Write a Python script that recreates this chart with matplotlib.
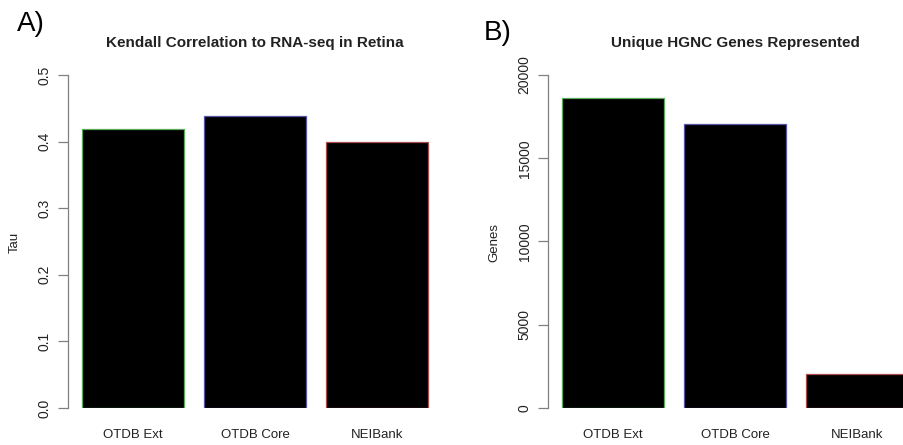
import matplotlib
matplotlib.use("Agg")
import matplotlib.pyplot as plt

plt.rcParams['font.family'] = ['Liberation Sans', 'DejaVu Sans']

# data
sources = ["OTDB Ext", "OTDB Core", "NEIBank"]
tau = [0.419, 0.439, 0.399]
genes = [18600, 17040, 2020]
edge_colors = ["#5aa85a", "#5555aa", "#aa4c4c"]

text_col = "#222222"
axis_col = "#808080"

# R barplot style: width 1, space 0.2
bar_x = [0.7 + 1.2 * i for i in range(len(sources))]

fig = plt.figure(figsize=(9.04, 4.45), dpi=100)

W, H = 904.0, 445.0
y_top, y_bot = 75.0, 408.0


def make_axes(left_px, right_px):
    return fig.add_axes([left_px / W, 1 - y_bot / H,
                         (right_px - left_px) / W, (y_bot - y_top) / H])


def draw_panel(ax, values, ymax, yticks, ylabels, title):
    ax.bar(bar_x, values, width=1.0, color="black",
           edgecolor=edge_colors, linewidth=0.9)
    ax.set_xlim(0.064, 3.736)
    ax.set_ylim(0, ymax)
    for s in ["top", "right", "bottom"]:
        ax.spines[s].set_visible(False)
    ax.spines["left"].set_color(axis_col)
    ax.spines["left"].set_linewidth(0.9)
    ax.set_yticks(yticks)
    ax.set_yticklabels(ylabels, rotation=90, va="center", fontsize=10,
                       color=text_col)
    ax.tick_params(axis="y", length=7, width=0.9, color=axis_col, pad=5)
    ax.set_xticks(bar_x)
    ax.set_xticklabels(sources, fontsize=9.5, color=text_col)
    ax.tick_params(axis="x", length=0, pad=15)
    ax.set_title(title, fontsize=11, fontweight="bold", color=text_col, pad=20.5)
    ax.patch.set_alpha(0)


# panel A
ax1 = make_axes(68.2, 441.8)
draw_panel(ax1, tau, 0.5, [0, 0.1, 0.2, 0.3, 0.4, 0.5],
           ["0.0", "0.1", "0.2", "0.3", "0.4", "0.5"],
           "Kendall Correlation to RNA-seq in Retina")
fig.text(15 / W, 1 - 242 / H, "Tau", rotation=90, fontsize=9.5,
         color=text_col, ha="center", va="center")
fig.text(17 / W, 1 - 24 / H, "A)", fontsize=20, color="black",
         ha="left", va="center")

# panel B
ax2 = make_axes(548.2, 922.0)
draw_panel(ax2, genes, 20000, [0, 5000, 10000, 15000, 20000],
           ["0", "5000", "10000", "15000", "20000"],
           "Unique HGNC Genes Represented")
fig.text(494 / W, 1 - 242 / H, "Genes", rotation=90, fontsize=9.5,
         color=text_col, ha="center", va="center")
fig.text(484 / W, 1 - 33 / H, "B)", fontsize=20, color="black",
         ha="left", va="center")

fig.savefig("out.png", dpi=100)
